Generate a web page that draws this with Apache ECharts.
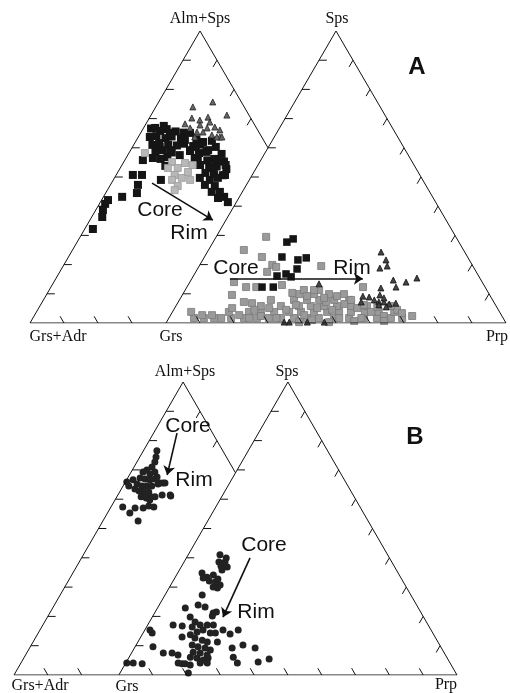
<!DOCTYPE html>
<html><head><meta charset="utf-8">
<script src="https://cdn.jsdelivr.net/npm/echarts@6/dist/echarts.min.js"></script>
<style>html,body{margin:0;padding:0;background:#fff}#c{width:510px;height:693px}</style>
</head><body><div id="c"></div><script>
// ---------- DATA (ternary compositions, %) ----------
// Panel A, left triangle: [Grs+Adr, Alm+Sps]
const aLeftBlack = [
 [65.4,32.2],[60.6,36.3],[59.2,38.7],[57.5,40.8],[56.0,42.1],[51.3,43.2],[46.3,44.5],[44.6,47.3],[44.4,50.7],[41.7,50.7],[38.9,55.8],[37.0,49.0],
 [31.1,66.6],[28.8,65.8],[26.6,66.4],[24.4,65.6],[22.3,65.2],
 [32.9,63.7],[30.8,64.0],[28.5,63.3],[26.4,63.9],[24.0,63.2],[19.6,62.9],[15.3,62.4],
 [33.5,61.0],[31.2,61.6],[28.8,61.1],[26.4,60.8],[24.0,61.4],[21.7,60.6],[19.3,61.1],[15.2,60.3],
 [33.8,58.6],[31.5,59.2],[29.1,58.4],[23.5,58.9],[21.2,58.2],[18.8,58.6],[14.7,57.9],
 [33.5,56.2],[31.2,56.8],[22.4,56.5],[20.0,55.7],[17.7,56.2],[15.3,55.3],
 [33.3,53.8],[23.0,54.1],[20.6,53.4],[18.3,53.6],[15.9,52.7],
 [22.7,51.4],[20.4,51.0],[18.0,50.6],
 [22.6,49.0],[22.2,46.9],[21.7,44.9],[21.3,43.2],[21.1,41.4],[24.9,47.3],[24.1,44.9],[23.3,42.8],[25.2,49.7],
 [29.8,66.8],[26.9,67.5],[26.3,65.1],[23.1,62.7],[20.4,65.1],[18.1,62.0],[18.0,59.2],[21.1,60.3],[27.2,57.5],[29.2,59.2],
 [31.7,60.3],[35.6,56.5],[17.4,55.8],[20.0,53.1],[15.4,54.1],[17.3,50.7],[19.9,49.7],[23.3,56.5],[23.0,54.1],[23.3,59.2]
];
const aLeftGray = [
 [37.1,58.2],[30.7,55.1],[30.0,53.1],[27.0,54.8],[32.1,50.7],[30.5,49.7],[27.7,51.7],[33.7,49.0],[33.1,46.9],[28.4,49.0],[25.1,54.1],[32.9,53.1],[34.7,45.5]
];
const aLeftTri = [
 [15.1,74.0],[8.4,75.7],[6.5,71.2],[17.3,70.2],[15.3,69.5],[12.4,70.5],[12.7,68.8],[12.1,67.1],[11.1,66.1],[16.1,67.8],
 [16.4,65.4],[12.3,63.7],[19.5,66.8],[18.2,65.4],[14.5,66.8],[14.3,64.4],[13.2,63.7],[11.7,63.7],[20.3,68.2],[19.7,63.7]
];
// Panel A, right triangle: [Sps, Prp]
const aRightGray = [
 [1.7,7.4],[1.7,10.3],[1.7,13.3],[1.7,18.3],[1.7,22.1],[1.7,25.9],[1.7,29.4],[1.7,33.0],[1.7,36.8],[1.7,40.6],[1.7,44.1],[1.7,48.6],[1.7,53.0],[1.7,57.4],[1.7,61.2],[1.7,65.3],[1.7,68.6],
 [3.8,16.6],[3.8,22.5],[3.8,26.0],[3.8,29.9],[3.8,34.3],[3.8,37.8],[3.8,41.6],[3.8,45.5],[3.8,49.0],[3.8,52.5],[3.8,56.6],[3.8,60.7],[3.8,65.2],
 [5.8,25.0],[5.8,30.9],[5.8,36.2],[5.8,39.7],[5.8,43.6],[5.8,47.4],[5.8,51.5],[5.8,56.2],
 [7.9,26.9],[7.9,33.7],[7.9,37.5],[7.9,41.1],[7.9,45.5],[7.9,49.9],
 [9.9,34.2],[9.9,38.6],[9.9,43.0],[9.9,47.4],[11.3,34.9],[11.3,39.4],
 [29.5,14.7],[25.0,10.4],[22.6,16.9],[19.9,21.3],[17.5,21.0],[19.2,22.8],[19.5,35.9],[14.0,13.0],[12.3,17.4],[12.3,20.4],[13.0,27.6],
 [9.6,14.6],[7.2,19.3],[6.8,21.9],[10.3,32.0],[12.3,51.8],[2.4,71.2],[3.8,5.5],[2.7,9.3],[2.7,12.2],[2.7,20.2],[5.1,16.9],
 [4.5,33.1],[6.2,35.1],[2.7,39.3],[5.1,41.9],[7.2,43.5],[4.5,46.6],[6.5,49.2],[5.1,53.7],[3.8,58.4],[2.4,62.9],[4.5,65.7],
 [1.7,56.6],[1.7,50.1],[1.0,42.4],[1.7,31.6],[2.4,26.7],[1.7,23.6],[1.7,15.4],[9.2,36.9],[8.6,42.2],[9.2,45.7],[11.3,37.9],
 [7.9,50.5],[6.2,55.1],[5.5,59.4],[5.8,63.3],[3.4,67.7],[5.1,27.8],[4.5,23.7],[0.3,39.0],[0.3,47.8],[0.7,55.0],[0.7,63.8]
];
const aRightBlack = [
 [27.7,21.7],[28.8,23.0],[22.6,22.8],[21.6,28.0],[22.3,30.1],[18.5,29.3],[16.8,26.9],[15.8,28.9],[16.1,24.6],[12.3,22.1],[12.3,25.4]
];
const aRightTri = [
 [24.3,51.1],[21.6,53.9],[18.8,53.5],[19.5,55.3],[13.4,38.3],[12.0,57.2],[14.7,59.5],[12.3,61.5],[14.0,63.6],[15.4,66.1],
 [9.2,53.3],[8.9,55.3],[7.9,57.3],[7.2,59.0],[7.2,60.5],[6.5,62.4],[6.8,64.2],[9.6,58.1],[8.6,59.8],[6.2,59.5],[5.5,62.0],[7.2,53.8],
 [0.3,36.1],[0.3,41.4],[0.3,46.4],[0.3,34.6]
];
// Panel B, left triangle: [Grs+Adr, Alm+Sps]
const bLeft = [
 [19.5,76.5],[20.8,74.4],[22.0,72.7],[23.7,71.0],[25.7,70.0],[27.2,69.3],[25.5,68.6],[23.7,69.3],[29.1,67.2],[27.8,66.9],[26.5,66.6],[24.9,66.9],
 [31.0,65.2],[29.9,64.5],[28.5,64.5],[27.0,64.5],[31.6,62.8],[30.3,62.5],[28.9,62.5],[32.0,60.8],[30.7,60.4],[29.1,60.8],
 [33.7,65.9],[33.8,64.5],[31.5,66.6],[32.5,63.5],[24.8,65.2],
 [23.9,67.6],[24.1,65.5],[22.6,65.5],[25.5,61.4],[23.1,61.4],[27.9,60.8],[30.0,59.7],[39.2,57.3],[38.1,55.3],[35.7,57.0],[33.3,57.0],
 [31.3,57.7],[30.0,57.3],[37.0,52.6],[23.1,61.1],[23.2,65.5]
];
// Panel B, right triangle: [Sps, Prp]
const bRight = [
 [41.0,9.4],[39.9,11.8],[38.6,10.3],[38.6,12.1],[37.2,11.6],[36.9,13.6],[35.8,12.6],
 [34.8,7.2],[33.4,9.4],[34.1,10.9],[33.1,8.4],[32.1,10.7],[31.7,12.7],[32.8,12.9],[30.7,14.6],[30.0,12.9],[29.7,14.3],
 [27.3,11.0],[23.9,11.5],[23.2,13.9],[22.9,8.2],[21.2,17.3],[21.5,18.1],[20.1,17.6],
 [19.8,11.2],[18.1,13.5],[17.1,15.5],[16.4,13.5],[15.4,17.2],[14.7,15.8],[17.1,17.6],[17.1,19.4],[14.3,19.9],[14.3,21.4],
 [13.7,14.3],[12.6,16.2],[11.9,18.7],[11.3,20.5],[10.2,16.6],[9.6,18.6],[9.2,20.9],[8.5,22.8],[7.8,18.1],[7.5,20.3],[6.8,22.7],
 [6.1,18.1],[5.8,20.2],[5.1,22.4],[5.8,23.5],[4.1,22.0],[4.1,15.5],[3.8,16.8],[3.8,17.7],[3.4,19.4],[4.1,24.1],[0.7,20.2],
 [17.1,7.5],[16.7,10.4],[13.0,12.2],[7.5,9.4],[7.5,12.0],[6.8,14.1],[15.4,1.5],[14.3,2.7],[9.6,5.3],[4.1,0.3],[4.1,2.2],[3.8,5.0],
 [15.4,23.1],[14.0,25.9],[15.4,27.6],[9.2,28.9],[10.2,31.6],[9.2,35.7],[6.1,30.8],[4.1,33.0],[4.4,39.0],[5.5,41.7],[11.3,23.5]
];
// Vertex labels
const vertexA = ['Grs+Adr','Alm+Sps','Grs','Sps','Prp'];
const vertexB = ['Grs+Adr','Alm+Sps','Grs','Sps','Prp'];
// Offset of the second triangle (Grs vertex) along the base, % of side
const offA = 40, offB = 31;

// ---------- helpers ----------
const H = Math.sqrt(3)/2;
const leftXY = d => d.map(p => [100 - p[0] - p[1]/2, p[1]*H]);
const rightXY = (d, off) => d.map(p => [off + p[1] + p[0]/2, p[0]*H]);

function frame(off){
  const L = 2.3, s = [];
  const ix = 50 + off/2, iy = (100 - off)*H;
  s.push({coords:[[off,0],[0,0],[50,100*H],[ix,iy]]});
  s.push({coords:[[off,0],[off+100,0],[off+50,100*H],[off,0]]});
  for (let i=1;i<10;i++){
    const t=i/10;
    s.push({coords:[[50*t,100*H*t],[50*t+L,100*H*t]]});
    s.push({coords:[[off+50*t,100*H*t],[off+50*t+L,100*H*t]]});
    s.push({coords:[[off+100*t,0],[off+100*t-L/2,L*H]]});
    const rx=off+50+50*t, ry=100*H*(1-t);
    s.push({coords:[[rx,ry],[rx-L/2,ry-L*H]]});
    if (i*10 < off-3){
      s.push({coords:[[100*t,0],[100*t-L/2,L*H]]});
      const lx=50+50*t, ly=100*H*(1-t);
      s.push({coords:[[lx,ly],[lx-L/2,ly-L*H]]});
    }
  }
  return s;
}
function frameSeries(off, gi){
  return {type:'lines', coordinateSystem:'cartesian2d', xAxisIndex:gi, yAxisIndex:gi, polyline:true,
    silent:true, z:5, lineStyle:{color:'#111', width:1, opacity:1}, data:frame(off)};
}
function arrow(from, to, gi){
  return {type:'lines', coordinateSystem:'cartesian2d', xAxisIndex:gi, yAxisIndex:gi, silent:true, z:6,
    symbol:['none','arrow'], symbolSize:9, lineStyle:{color:'#111', width:1.6, opacity:1},
    data:[{coords:[from,to]}]};
}
function sc(data, gi, symbol, size, color, border){
  return {type:'scatter', xAxisIndex:gi, yAxisIndex:gi, symbol, symbolSize:size, silent:true,
    itemStyle:{color, borderColor:border||color, borderWidth:border?0.8:0, opacity:1}, data};
}

const serif = '16px "Liberation Serif", "Times New Roman", serif';
const sans = '21px "Liberation Sans", Arial, sans-serif';
function txt(t, x, y, font){
  return {type:'text', z:10, style:{text:t, x, y, font, fill:'#111', textAlign:'center',
    verticalAlign:'middle', textVerticalAlign:'middle'}};
}

const chart = echarts.init(document.getElementById('c'), null, {renderer:'canvas'});
chart.setOption({
  animation:false,
  backgroundColor:'#fff',
  grid:[
    {left:30, top:31, width:476, height:292},
    {left:14, top:382, width:443, height:293}
  ],
  xAxis:[
    {type:'value', gridIndex:0, min:0, max:140, show:false},
    {type:'value', gridIndex:1, min:0, max:131, show:false}
  ],
  yAxis:[
    {type:'value', gridIndex:0, min:0, max:100*H, show:false},
    {type:'value', gridIndex:1, min:0, max:100*H, show:false}
  ],
  series:[
    frameSeries(offA,0),
    frameSeries(offB,1),
    sc(rightXY(aRightGray,offA),0,'rect',7,'#9a9a9a','#7a7a7a'),
    sc(leftXY(aLeftBlack),0,'rect',8,'#151515'),
    sc(leftXY(aLeftGray),0,'rect',7,'#b8b8b8','#999'),
    sc(leftXY(aLeftTri),0,'triangle',6,'#666','#222'),
    sc(rightXY(aRightBlack,offA),0,'rect',7.5,'#151515'),
    sc(rightXY(aRightTri,offA),0,'triangle',6,'#444','#111'),
    sc(leftXY(bLeft),1,'circle',7,'#222'),
    sc(rightXY(bRight,offB),1,'circle',7,'#222'),
    arrow([35.9,41.5],[53.8,30.5],0),
    arrow([58.8,13.1],[97.9,13.1],0),
    arrow([48.2,71.5],[45.3,59.1],1),
    arrow([69.8,34.6],[61.8,17.1],1)
  ],
  graphic:[
    txt(vertexA[1],200,19,serif), txt(vertexA[3],337,19,serif),
    txt(vertexA[0],58,337,serif), txt(vertexA[2],171,337,serif), txt(vertexA[4],497,337,serif),
    txt('A',417,67,'bold 24px "Liberation Sans", Arial, sans-serif'),
    txt('Core',160,210,sans), txt('Rim',189,233,sans),
    txt('Core',236,268,sans), txt('Rim',352,268,sans),
    txt(vertexB[1],185,372,serif), txt(vertexB[3],287,372,serif),
    txt(vertexB[0],40,686,serif), txt(vertexB[2],127,687,serif), txt(vertexB[4],446,685,serif),
    txt('B',415,437,'bold 24px "Liberation Sans", Arial, sans-serif'),
    txt('Core',188,426,sans), txt('Rim',194,480,sans),
    txt('Core',264,545,sans), txt('Rim',256,612,sans)
  ]
});
</script></body></html>
